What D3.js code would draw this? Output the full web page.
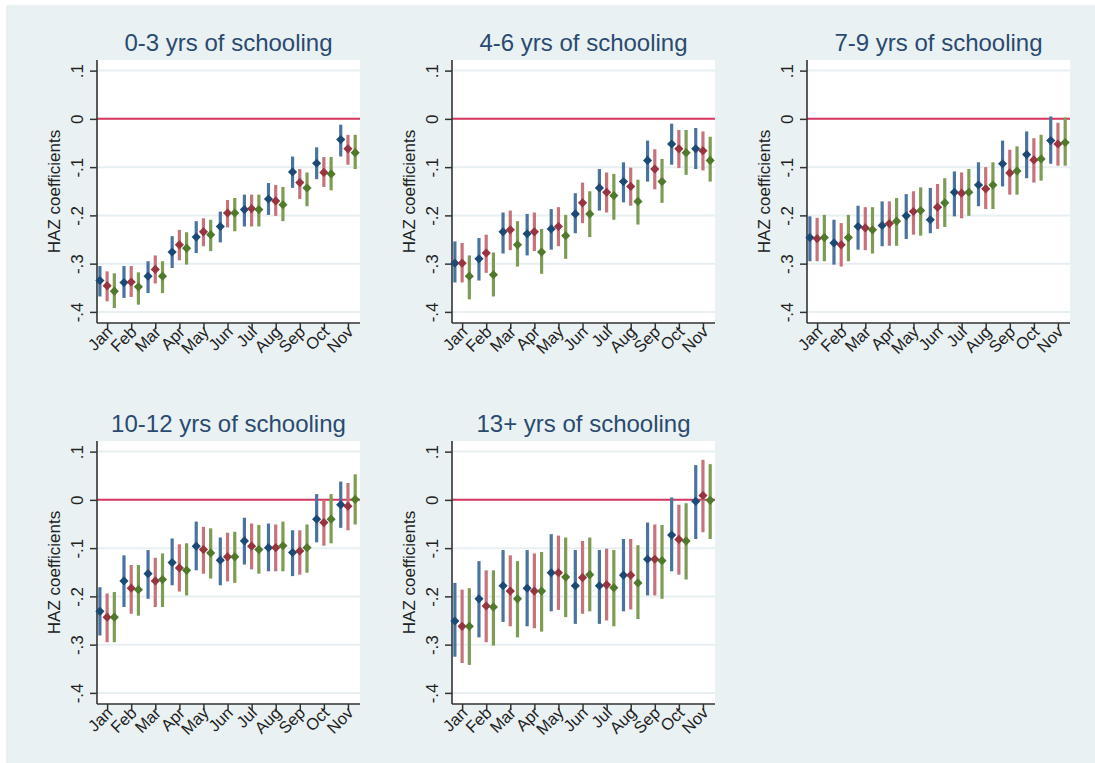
<!DOCTYPE html>
<html lang="en">
<head>
    <meta charset="UTF-8">
    <script src="https://d3js.org/d3.v7.min.js"></script>
    <title>HAZ coefficients by schooling</title>
</head>
<style>
    body{
        margin: 0;
        background-color: #ffffff;
    }
    svg text{
        font-family: "Liberation Sans", Arial, sans-serif;
    }
</style>
<body>
    <div id='grafico'></div>
</body>
<script>
    var meses = ['Jan', 'Feb', 'Mar', 'Apr', 'May', 'Jun', 'Jul', 'Aug', 'Sep', 'Oct', 'Nov']
    var titulos = ['0-3 yrs of schooling', '4-6 yrs of schooling', '7-9 yrs of schooling', '10-12 yrs of schooling', '13+ yrs of schooling']
    var yTicks = [0.1, 0, -0.1, -0.2, -0.3, -0.4]
    var yTickLabels = ['.1', '0', '-.1', '-.2', '-.3', '-.4']

    // each block: [navy, maroon, green] series, one value per month
    var coef03 = [
        [-0.335, -0.339, -0.326, -0.276, -0.245, -0.223, -0.188, -0.166, -0.110, -0.092, -0.043],
        [-0.346, -0.338, -0.312, -0.261, -0.234, -0.195, -0.186, -0.170, -0.132, -0.111, -0.062],
        [-0.357, -0.348, -0.326, -0.268, -0.240, -0.195, -0.188, -0.178, -0.143, -0.114, -0.070]
    ]
    var low03 = [
        [-0.368, -0.371, -0.361, -0.309, -0.278, -0.256, -0.223, -0.199, -0.143, -0.125, -0.078],
        [-0.378, -0.369, -0.341, -0.293, -0.264, -0.225, -0.223, -0.201, -0.166, -0.141, -0.095],
        [-0.392, -0.385, -0.361, -0.302, -0.274, -0.233, -0.223, -0.212, -0.181, -0.148, -0.104]
    ]
    var high03 = [
        [-0.305, -0.305, -0.295, -0.243, -0.212, -0.192, -0.157, -0.133, -0.078, -0.059, -0.012],
        [-0.316, -0.305, -0.283, -0.230, -0.206, -0.168, -0.157, -0.137, -0.104, -0.079, -0.033],
        [-0.320, -0.318, -0.295, -0.235, -0.209, -0.164, -0.157, -0.141, -0.111, -0.079, -0.033]
    ]

    var coef46 = [
        [-0.299, -0.290, -0.234, -0.238, -0.228, -0.197, -0.143, -0.130, -0.086, -0.052, -0.062],
        [-0.299, -0.278, -0.230, -0.234, -0.223, -0.174, -0.152, -0.140, -0.104, -0.062, -0.066],
        [-0.326, -0.323, -0.261, -0.276, -0.242, -0.197, -0.159, -0.171, -0.130, -0.070, -0.086]
    ]
    var low46 = [
        [-0.339, -0.335, -0.279, -0.283, -0.271, -0.237, -0.190, -0.173, -0.130, -0.095, -0.104],
        [-0.339, -0.319, -0.272, -0.274, -0.264, -0.216, -0.194, -0.180, -0.146, -0.102, -0.107],
        [-0.374, -0.368, -0.306, -0.321, -0.290, -0.245, -0.209, -0.219, -0.174, -0.116, -0.130]
    ]
    var high46 = [
        [-0.254, -0.247, -0.194, -0.197, -0.187, -0.154, -0.104, -0.090, -0.045, -0.010, -0.019],
        [-0.257, -0.240, -0.190, -0.194, -0.183, -0.132, -0.111, -0.101, -0.063, -0.023, -0.026],
        [-0.283, -0.277, -0.212, -0.228, -0.199, -0.150, -0.114, -0.126, -0.083, -0.023, -0.037]
    ]

    var coef79 = [
        [-0.246, -0.257, -0.223, -0.221, -0.201, -0.209, -0.152, -0.137, -0.093, -0.074, -0.045],
        [-0.248, -0.261, -0.226, -0.217, -0.192, -0.183, -0.154, -0.145, -0.112, -0.085, -0.052],
        [-0.246, -0.246, -0.230, -0.212, -0.190, -0.174, -0.152, -0.137, -0.108, -0.083, -0.049]
    ]
    var low79 = [
        [-0.295, -0.302, -0.271, -0.264, -0.249, -0.237, -0.202, -0.181, -0.140, -0.123, -0.093],
        [-0.295, -0.306, -0.272, -0.263, -0.240, -0.228, -0.206, -0.187, -0.157, -0.132, -0.097],
        [-0.295, -0.295, -0.279, -0.263, -0.242, -0.224, -0.201, -0.187, -0.157, -0.128, -0.097]
    ]
    var high79 = [
        [-0.202, -0.209, -0.180, -0.171, -0.156, -0.143, -0.109, -0.090, -0.045, -0.026, 0.005],
        [-0.205, -0.216, -0.183, -0.171, -0.150, -0.135, -0.111, -0.100, -0.064, -0.040, -0.008],
        [-0.199, -0.199, -0.183, -0.164, -0.142, -0.123, -0.104, -0.090, -0.057, -0.033, 0.003]
    ]

    var coef1012 = [
        [-0.231, -0.168, -0.153, -0.130, -0.096, -0.125, -0.085, -0.099, -0.109, -0.040, -0.010],
        [-0.243, -0.183, -0.168, -0.141, -0.103, -0.118, -0.096, -0.099, -0.106, -0.047, -0.013],
        [-0.243, -0.186, -0.165, -0.146, -0.110, -0.118, -0.103, -0.095, -0.099, -0.040, 0.001]
    ]
    var low1012 = [
        [-0.281, -0.222, -0.205, -0.177, -0.146, -0.177, -0.134, -0.148, -0.158, -0.088, -0.058],
        [-0.295, -0.236, -0.222, -0.190, -0.153, -0.169, -0.144, -0.148, -0.155, -0.095, -0.063],
        [-0.295, -0.240, -0.222, -0.198, -0.163, -0.172, -0.153, -0.148, -0.151, -0.090, -0.051]
    ]
    var high1012 = [
        [-0.181, -0.115, -0.104, -0.080, -0.045, -0.078, -0.037, -0.049, -0.063, 0.012, 0.038],
        [-0.194, -0.135, -0.120, -0.092, -0.056, -0.068, -0.049, -0.051, -0.063, 0.000, 0.035],
        [-0.191, -0.135, -0.111, -0.090, -0.059, -0.066, -0.052, -0.045, -0.051, 0.012, 0.053]
    ]

    var coef13 = [
        [-0.251, -0.205, -0.178, -0.183, -0.151, -0.178, -0.178, -0.156, -0.123, -0.073, -0.003],
        [-0.262, -0.220, -0.189, -0.189, -0.151, -0.161, -0.176, -0.156, -0.123, -0.082, 0.009],
        [-0.262, -0.222, -0.205, -0.189, -0.160, -0.155, -0.182, -0.172, -0.126, -0.085, -0.001]
    ]
    var low13 = [
        [-0.325, -0.285, -0.253, -0.262, -0.231, -0.257, -0.257, -0.231, -0.198, -0.148, -0.081],
        [-0.338, -0.295, -0.262, -0.266, -0.228, -0.236, -0.250, -0.227, -0.198, -0.155, -0.067],
        [-0.342, -0.302, -0.285, -0.273, -0.243, -0.231, -0.262, -0.247, -0.205, -0.165, -0.081]
    ]
    var high13 = [
        [-0.172, -0.127, -0.104, -0.104, -0.071, -0.104, -0.104, -0.081, -0.047, 0.005, 0.072],
        [-0.186, -0.146, -0.115, -0.111, -0.074, -0.085, -0.101, -0.081, -0.051, -0.010, 0.083],
        [-0.183, -0.146, -0.127, -0.108, -0.078, -0.078, -0.104, -0.094, -0.052, -0.007, 0.074]
    ]

    var paineis = [
        {titulo: titulos[0], coef: coef03, low: low03, high: high03, x: 97, y: 60},
        {titulo: titulos[1], coef: coef46, low: low46, high: high46, x: 452, y: 60},
        {titulo: titulos[2], coef: coef79, low: low79, high: high79, x: 807, y: 60},
        {titulo: titulos[3], coef: coef1012, low: low1012, high: high1012, x: 97, y: 441},
        {titulo: titulos[4], coef: coef13, low: low13, high: high13, x: 452, y: 441}
    ]

    var corMarca = ['#1c4a76', '#98333f', '#4f7a2b']
    var corBarra = ['#4a74a0', '#c7737b', '#7d9c54']
    var deslocamento = [-0.3, 0, 0.3]
    var largura = 263, altura = 263

    var svg = d3.select(document.getElementById('grafico'))
    .append('svg')
    .attr('width', 1095)
    .attr('height', 763)

    svg.append('rect')
    .attr('x', 6)
    .attr('y', 5)
    .attr('width', 1089)
    .attr('height', 758)
    .attr('fill', '#e9f1f3')

    var xScale = d3.scaleLinear()
    .domain([0.58, 11.5])
    .range([0, largura])

    var yScale = d3.scaleLinear()
    .domain([-0.423, 0.122])
    .range([altura, 0])

    var diamante = d3.symbol().type(d3.symbolSquare).size(42)

    paineis.forEach(function (p) {
        var g = svg.append('g')
        .attr('transform', 'translate(' + p.x + ',' + p.y + ')')

        g.append('rect')
        .attr('width', largura)
        .attr('height', altura)
        .attr('fill', '#ffffff')

        g.selectAll('.grid')
        .data(yTicks)
        .enter()
        .append('line')
        .attr('class', 'grid')
        .attr('x1', 0)
        .attr('x2', largura)
        .attr('y1', d => yScale(d))
        .attr('y2', d => yScale(d))
        .attr('stroke', '#e7eff2')
        .attr('stroke-width', 2)

        g.append('line')
        .attr('x1', 0)
        .attr('x2', largura)
        .attr('y1', yScale(0))
        .attr('y2', yScale(0))
        .attr('stroke', '#d8375f')
        .attr('stroke-width', 2)

        var yAxis = d3.axisLeft(yScale)
        .tickValues(yTicks)
        .tickSize(7)
        .tickFormat((d, i) => yTickLabels[i])

        var eixoY = g.append('g').call(yAxis)
        eixoY.select('.domain').remove()
        eixoY.selectAll('line').attr('stroke', '#333').attr('stroke-width', 1.5)
        eixoY.selectAll('text')
        .attr('x', null)
        .attr('dy', null)
        .attr('text-anchor', 'middle')
        .attr('transform', 'translate(-14,0) rotate(-90)')
        .attr('fill', '#222')
        .style('font-size', '17px')

        var xAxis = d3.axisBottom(xScale)
        .tickValues(d3.range(1, 12))
        .tickSize(6)
        .tickFormat((d, i) => meses[i])

        var eixoX = g.append('g')
        .attr('transform', 'translate(0,' + altura + ')')
        .call(xAxis)
        eixoX.select('.domain').remove()
        eixoX.selectAll('line').attr('stroke', '#333').attr('stroke-width', 1.5)
        eixoX.selectAll('text')
        .attr('y', null)
        .attr('dy', null)
        .attr('text-anchor', 'end')
        .attr('transform', 'translate(6,10) rotate(-45)')
        .attr('fill', '#222')
        .style('font-size', '16.5px')

        g.append('line')
        .attr('x1', 0).attr('x2', 0)
        .attr('y1', 0).attr('y2', altura)
        .attr('stroke', '#333')
        .attr('stroke-width', 1.6)

        g.append('line')
        .attr('x1', 0).attr('x2', largura)
        .attr('y1', altura).attr('y2', altura)
        .attr('stroke', '#333')
        .attr('stroke-width', 1.6)

        p.coef.forEach(function (serie, s) {
            g.selectAll('.barra' + s)
            .data(serie)
            .enter()
            .append('line')
            .attr('class', 'barra' + s)
            .attr('x1', (d, i) => xScale(i + 1 + deslocamento[s]))
            .attr('x2', (d, i) => xScale(i + 1 + deslocamento[s]))
            .attr('y1', (d, i) => yScale(p.low[s][i]))
            .attr('y2', (d, i) => yScale(p.high[s][i]))
            .attr('stroke', corBarra[s])
            .attr('stroke-width', 3.2)

            g.selectAll('.marca' + s)
            .data(serie)
            .enter()
            .append('path')
            .attr('class', 'marca' + s)
            .attr('d', diamante)
            .attr('transform', (d, i) => 'translate(' + xScale(i + 1 + deslocamento[s]) + ',' + yScale(d) + ') rotate(45)')
            .attr('fill', corMarca[s])
        })

        g.append('text')
        .attr('x', largura / 2)
        .attr('y', -9)
        .attr('text-anchor', 'middle')
        .attr('fill', '#2a4a70')
        .style('font-size', '24px')
        .text(p.titulo)

        g.append('text')
        .attr('transform', 'translate(-37,' + (altura / 2) + ') rotate(-90)')
        .attr('text-anchor', 'middle')
        .attr('fill', '#222')
        .style('font-size', '17px')
        .text('HAZ coefficients')
    })
</script>
</html>
